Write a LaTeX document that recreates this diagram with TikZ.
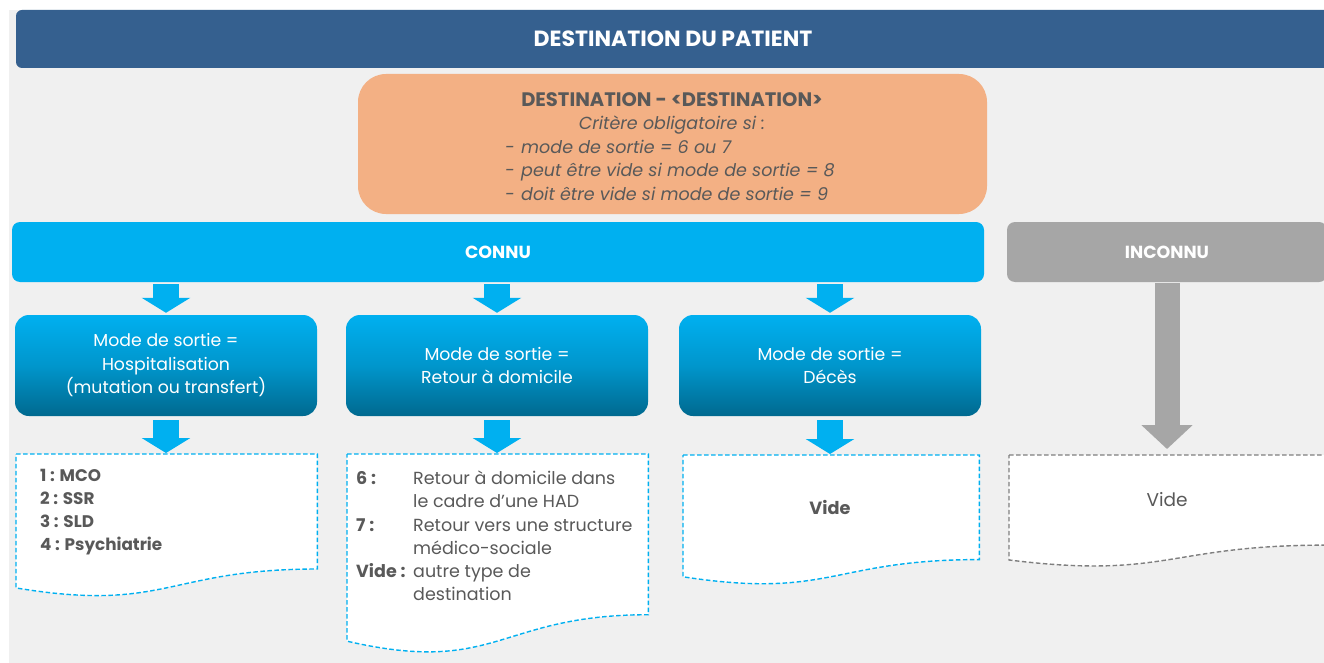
\documentclass[tikz,border=0pt]{standalone}
\usepackage{fontspec}
\setmainfont{Poppins}
\usetikzlibrary{calc,arrows.meta}
\definecolor{bggrey}{HTML}{F0F0F0}
\definecolor{navy}{HTML}{35608F}
\definecolor{peach}{HTML}{F3B084}
\definecolor{cyanb}{HTML}{00B0F0}
\definecolor{cyand}{HTML}{00698F}
\definecolor{cyanm}{HTML}{0096CC}
\definecolor{greyb}{HTML}{A6A6A6}
\definecolor{greyd}{HTML}{7F7F7F}
\definecolor{txt}{HTML}{595959}
\newcommand\docshape[2]{%
  \draw[#2] (#1.north west) -- (#1.north east) -- ($(#1.north east)!0.802!(#1.south east)$)
    .. controls ($(#1.north)!0.802!(#1.south)$) and ($(#1.north)!1.1075!(#1.south)$)
    .. ($(#1.north west)!0.934!(#1.south west)$) -- cycle;}
\begin{document}
\begin{tikzpicture}[x=1pt,y=-1pt,
  titlebar/.style={fill=navy, rounded corners=6pt, text=white, font=\fontsize{22}{26}\selectfont\bfseries, inner sep=0pt},
  orangebox/.style={fill=peach, rounded corners=28pt, inner sep=0pt},
  connubar/.style={fill=cyanb, rounded corners=8pt, text=white, font=\fontsize{17.5}{20}\selectfont\bfseries, inner sep=0pt},
  inconnubar/.style={fill=greyb, rounded corners=8pt, text=white, font=\fontsize{17.5}{20}\selectfont\bfseries, inner sep=0pt},
  modebox/.style={rounded corners=14pt, top color=cyanb, bottom color=cyand, middle color=cyanm, text=white, align=center, font=\fontsize{17.3}{23.5}\selectfont, inner sep=0pt, minimum width=302pt, minimum height=101pt},
  docnode/.style={rectangle, inner sep=0pt, anchor=north west},
  docblue/.style={fill=white, draw=cyanb, line width=1.4pt, dash pattern=on 4.5pt off 2.5pt},
  docgrey/.style={fill=white, draw=greyd, line width=1.4pt, dash pattern=on 4.5pt off 2.5pt},
  doctext/.style={text=txt, align=left, font=\fontsize{17.5}{23.2}\selectfont, inner sep=0pt, anchor=west},
  barrow/.style={draw=cyanb, line width=26pt, -{Triangle[width=48pt,length=15pt]}},
  garrow/.style={draw=greyb, line width=25pt, -{Triangle[width=50pt,length=24pt]}}
]
\clip (0,0) rectangle (1324,663);
\fill[white] (0,0) rectangle (1324,663);
\fill[bggrey] (9,10) rectangle (1324,663);

\node[titlebar, minimum width=1314pt, minimum height=58pt] (title) at (673,39) {DESTINATION DU PATIENT};

\node[orangebox, minimum width=629pt, minimum height=140pt] (dest) at (672.5,144) {};
\node[text=txt, font=\fontsize{19.5}{22}\selectfont\bfseries, inner sep=0pt] (desttitle) at (672,100) {DESTINATION - <DESTINATION>};
\node[text=txt, font=\fontsize{17.5}{20}\selectfont\itshape, inner sep=0pt] (crit) at (672,125) {Critère obligatoire si :};
\node[text=txt, font=\fontsize{17.5}{23.5}\selectfont\itshape, inner sep=0pt, align=left, anchor=west] (bullets) at (505,170)
  {\makebox[16pt][l]{-}mode de sortie = 6 ou 7\\
   \makebox[16pt][l]{-}peut être vide si mode de sortie = 8\\
   \makebox[16pt][l]{-}doit être vide si mode de sortie = 9};

\node[connubar, minimum width=972pt, minimum height=60pt] (connu) at (498,252) {CONNU};
\node[inconnubar, minimum width=320pt, minimum height=60pt] (inconnu) at (1167,252) {INCONNU};

\node[modebox] (m1) at (166,365.5) {Mode de sortie =\\Hospitalisation\\(mutation ou transfert)};
\node[modebox] (m2) at (497,365.5) {Mode de sortie =\\Retour à domicile};
\node[modebox] (m3) at (830,365.5) {Mode de sortie =\\Décès};

\node[docnode, minimum width=301pt, minimum height=143pt] (d1) at (16,454) {};
\node[docnode, minimum width=301pt, minimum height=200pt] (d2) at (347,454) {};
\node[docnode, minimum width=296pt, minimum height=130pt] (d3) at (683,455) {};
\node[docnode, minimum width=316pt, minimum height=112pt] (d4) at (1009,455) {};
\docshape{d1}{docblue}
\docshape{d2}{docblue}
\docshape{d3}{docblue}
\docshape{d4}{docgrey}

\draw[barrow, shorten <=2pt, shorten >=2pt] (connu.south -| m1.north) -- (m1.north);
\draw[barrow, shorten <=2pt, shorten >=2pt] (connu.south -| m2.north) -- (m2.north);
\draw[barrow, shorten <=2pt, shorten >=2pt] (connu.south -| m3.north) -- (m3.north);
\draw[barrow, shorten <=4pt, shorten >=1pt] (m1.south) -- (m1.south |- d1.north);
\draw[barrow, shorten <=4pt, shorten >=1pt] (m2.south) -- (m2.south |- d2.north);
\draw[barrow, shorten <=4pt, shorten >=1pt] (m3.south) -- (m3.south |- d3.north);
\draw[garrow, shorten <=1pt, shorten >=6pt] (inconnu.south) -- (inconnu.south |- d4.north);

\node[doctext, font=\fontsize{16.8}{23}\selectfont\bfseries] (t1) at (40,512.5)
  {1 : MCO\\2 : SSR\\3 : SLD\\4 : Psychiatrie};
\node[doctext] (t2) at (356,536)
  {\makebox[57pt][l]{\bfseries 6 :}Retour à domicile dans\\
   \hspace*{57pt}le cadre d’une HAD\\
   \makebox[57pt][l]{\bfseries 7 :}Retour vers une structure\\
   \hspace*{57pt}médico-sociale\\
   \makebox[57pt][l]{\bfseries Vide :}autre type de\\
   \hspace*{57pt}destination};
\node[text=txt, font=\fontsize{17.7}{20}\selectfont\bfseries, inner sep=0pt] (t3) at (830,507) {Vide};
\node[text=txt, font=\fontsize{18.5}{20}\selectfont, inner sep=0pt] (t4) at (1167,500) {Vide};
\end{tikzpicture}
\end{document}
